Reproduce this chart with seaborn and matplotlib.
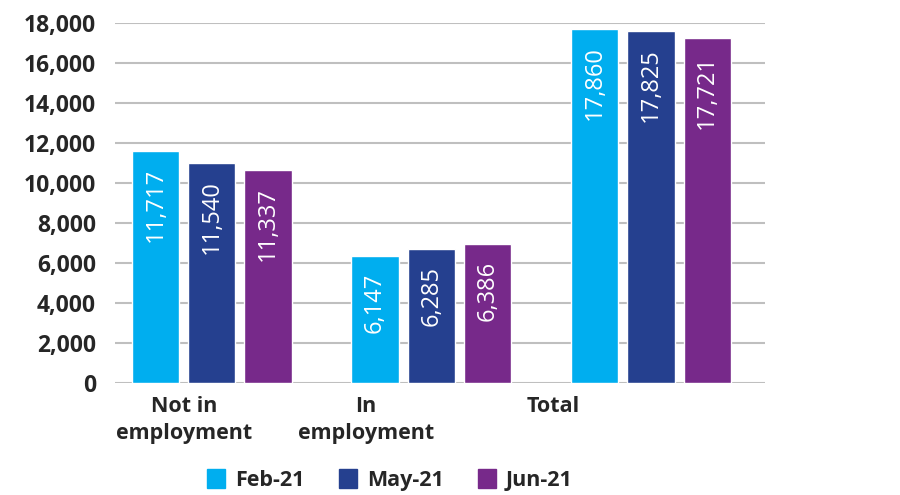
import pandas as pd
import matplotlib.pyplot as plt
import seaborn as sns
from matplotlib.patches import Patch

# Data
categories = ["Not in employment", "In employment", "Total"]
months = ["Feb-21", "May-21", "Jun-21"]
# bar heights as drawn in the picture
feb_heights = [11580, 6340, 17660]
may_heights = [10980, 6690, 17570]
jun_heights = [10630, 6940, 17210]
# printed values on the bars
feb_labels = ["11,717", "6,147", "17,860"]
may_labels = ["11,540", "6,285", "17,825"]
jun_labels = ["11,337", "6,386", "17,721"]
tick_labels = ["Not in\nemployment", "In\nemployment", "Total"]
colors = ["#00AEEF", "#25408F", "#77298A"]

rows = []
for m, h in zip(months, [feb_heights, may_heights, jun_heights]):
    for c, v in zip(categories, h):
        rows.append({"category": c, "month": m, "value": v})
df = pd.DataFrame(rows)

sns.set_style("white")
plt.rcParams['font.family'] = ['Open Sans', 'DejaVu Sans']

fig = plt.figure(figsize=(9, 4.95), dpi=100)
ax = fig.add_axes([0.128, 0.2263, 0.722, 0.7282])

sns.barplot(data=df, x="category", y="value", hue="month", order=categories,
            hue_order=months, palette=colors, width=0.77, gap=0.16,
            saturation=1, legend=False, ax=ax, zorder=3)

# labels inside bars
for cont, labs in zip(ax.containers, [feb_labels, may_labels, jun_labels]):
    for bar, lab in zip(cont, labs):
        ax.annotate(lab, (bar.get_x() + bar.get_width() / 2, bar.get_height()),
                    xytext=(0, -12), textcoords="offset points", rotation=90,
                    ha="center", va="top", color="white", fontsize=17,
                    fontweight="medium")

ax.set_ylim(0, 18000)
ax.set_xlim(-0.44, 2.52)
ax.set_yticks(range(0, 18001, 2000))
ax.set_yticklabels([f"{v:,}" for v in range(0, 18001, 2000)],
                   fontsize=16.5, fontweight="bold")
ax.tick_params(axis="y", length=0, pad=14)
ax.set_xticks([])
ax.set_xlabel("")
ax.set_ylabel("")
ax.grid(axis="y", color="#BFBFBF", linewidth=1.5, zorder=0)
for s in ax.spines.values():
    s.set_visible(False)

# category labels
for xpos, lab in zip([0.106, 0.386, 0.674], tick_labels):
    ax.text(xpos, -0.035, lab, transform=ax.transAxes, ha="center", va="top",
            fontsize=15.5, fontweight="bold", linespacing=1.4)

# legend
handles = [Patch(color=c, label=m) for c, m in zip(colors, months)]
fig.legend(handles=handles, loc="center", bbox_to_anchor=(390 / 900, 1 - 480 / 495),
           ncol=3, frameon=False, handlelength=0.85, handleheight=1.0,
           handletextpad=0.45, columnspacing=1.6, prop={"weight": "bold", "size": 15.5})

fig.savefig("out.png", dpi=100)
